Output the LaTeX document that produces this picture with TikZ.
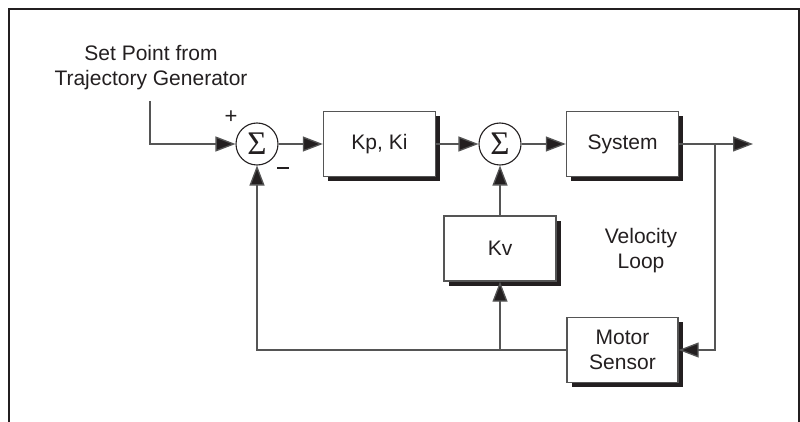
\documentclass[tikz,border=0pt]{standalone}
\usepackage{fontspec}
\setmainfont{Liberation Sans}
\newfontfamily\sigfont{Liberation Serif}
\usetikzlibrary{arrows.meta,shadows}
\definecolor{ink}{HTML}{231F20}
\definecolor{wire}{HTML}{555555}
\tikzset{
  blk/.style={draw=wire, line width=1.4pt, fill=white, minimum width=112pt, minimum height=65pt,
    inner sep=0pt, align=center, text=ink, font=\fontsize{21}{25}\selectfont,
    drop shadow={shadow xshift=4.5pt, shadow yshift=-4.5pt, fill=ink, opacity=1}},
  sumnode/.style={circle, draw=ink, line width=1.1pt, fill=white, minimum size=42pt, inner sep=0pt,
    font=\sigfont\fontsize{33}{33}\selectfont, text=ink},
  wireline/.style={draw=wire, line width=1.3pt},
  arr/.style={wireline, -{Triangle[length=20pt, width=15pt, fill=ink]}},
  lbl/.style={text=ink, font=\fontsize{21}{25}\selectfont, align=center},
  sgn/.style={text=ink, font=\fontsize{22}{22}\selectfont, inner sep=0pt}
}
\begin{document}
\begin{tikzpicture}[x=1pt,y=-1pt]
\useasboundingbox (0,0) rectangle (800,422);
\draw[ink, line width=2.5pt] (9,422) -- (9,9) -- (798.8,9) -- (798.8,422);

\node[lbl] (sp) at (151,68) {Set Point from\\Trajectory Generator};
\node[sumnode] (s1) at (257,144) {Σ};
\node[sumnode] (s2) at (500,144) {Σ};
\node[blk] (kp) at (379.5,144) {Kp, Ki};
\node[blk] (sys) at (622.5,144) {System};
\node[blk] (kv) at (500,248.5) {Kv};
\node[blk, minimum width=111pt] (ms) at (622.5,350) {Motor\\Sensor};
\node[lbl] (vl) at (641,251) {Velocity\\Loop};
\node[sgn] (plus) at (231,117) {+};
\node[sgn] (minus) at (283,170) {\rule[0.3ex]{12pt}{1.8pt}};

\coordinate (in) at (150,101);
\coordinate (out) at (753,144);
\coordinate (br) at (715,144);
\coordinate (jn) at (500,350);

\draw[arr] (in) |- (s1.west);
\draw[arr] (s1.east) -- (kp.west);
\draw[arr] (kp.east) -- (s2.west);
\draw[arr] (s2.east) -- (sys.west);
\draw[arr] (sys.east) -- (out);
\draw[arr] (br) |- (ms.east);
\draw[arr] (ms.west) -| (s1.south);
\draw[arr] (jn) -- (kv.south);
\draw[arr] (kv.north) -- (s2.south);
\end{tikzpicture}
\end{document}
